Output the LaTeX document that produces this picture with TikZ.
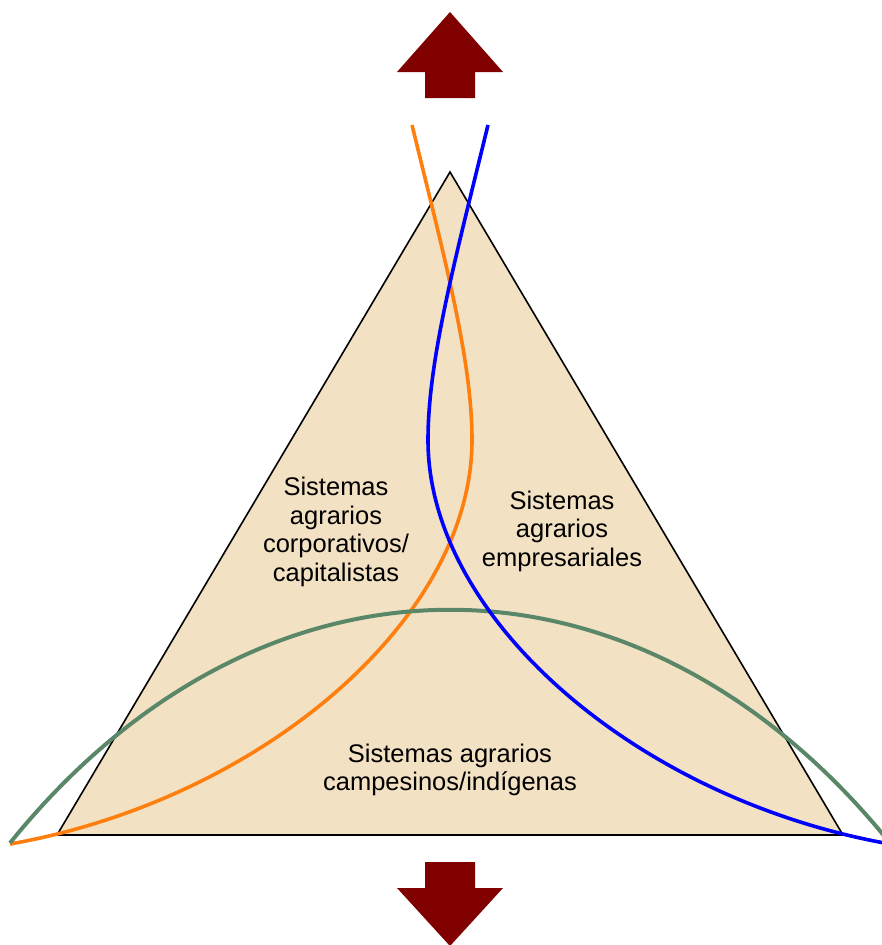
\documentclass[tikz,border=0pt]{standalone}
\usepackage{fontspec}
\setmainfont{Liberation Sans}
\definecolor{sandfill}{HTML}{F3E1C3}
\definecolor{arrowred}{HTML}{800000}
\definecolor{curveorange}{HTML}{FF7F0E}
\definecolor{curveblue}{HTML}{0000FF}
\definecolor{curvegreen}{HTML}{5B8769}
\begin{document}
\begin{tikzpicture}[x=1pt,y=-1pt,font=\fontsize{25.5}{28.5}\selectfont,
    label/.style={align=center,inner sep=0pt},
    bigarrow/.style={fill=arrowred,draw=none},
    curve/.style={line width=3.6pt}]
  \useasboundingbox (0,0) rectangle (881,945);
  % triangle
  \draw[fill=sandfill,draw=black,line width=1.6pt,line join=miter]
    (450,172) -- (843,835) -- (57,835) -- cycle;
  % arrows up and down
  \fill[bigarrow] (450,12) -- (503,72) -- (475,72) -- (475,98)
    -- (425,98) -- (425,72) -- (397,72) -- cycle;
  \fill[bigarrow] (425,862) -- (475,862) -- (475,888) -- (503,888)
    -- (450,946) -- (397,888) -- (425,888) -- cycle;
  % curves
  \draw[curve,curveorange] (412,125) .. controls (445,260) and (472,360) .. (472,440)
    .. controls (472,620) and (260,800) .. (10,844);
  \draw[curve,curvegreen,line width=4pt] (10,843) .. controls (261,532) and (639,532) .. (890,843);
  \draw[curve,curveblue] (488,125) .. controls (455,260) and (428,360) .. (428,440)
    .. controls (428,620) and (640,800) .. (890,844);
  % labels
  \node[label] (corp) at (336,532) {Sistemas\\agrarios\\corporativos/\\capitalistas};
  \node[label] (empr) at (562,531) {Sistemas\\agrarios\\empresariales};
  \node[label] (camp) at (450,770) {Sistemas agrarios\\campesinos/indígenas};
\end{tikzpicture}
\end{document}
